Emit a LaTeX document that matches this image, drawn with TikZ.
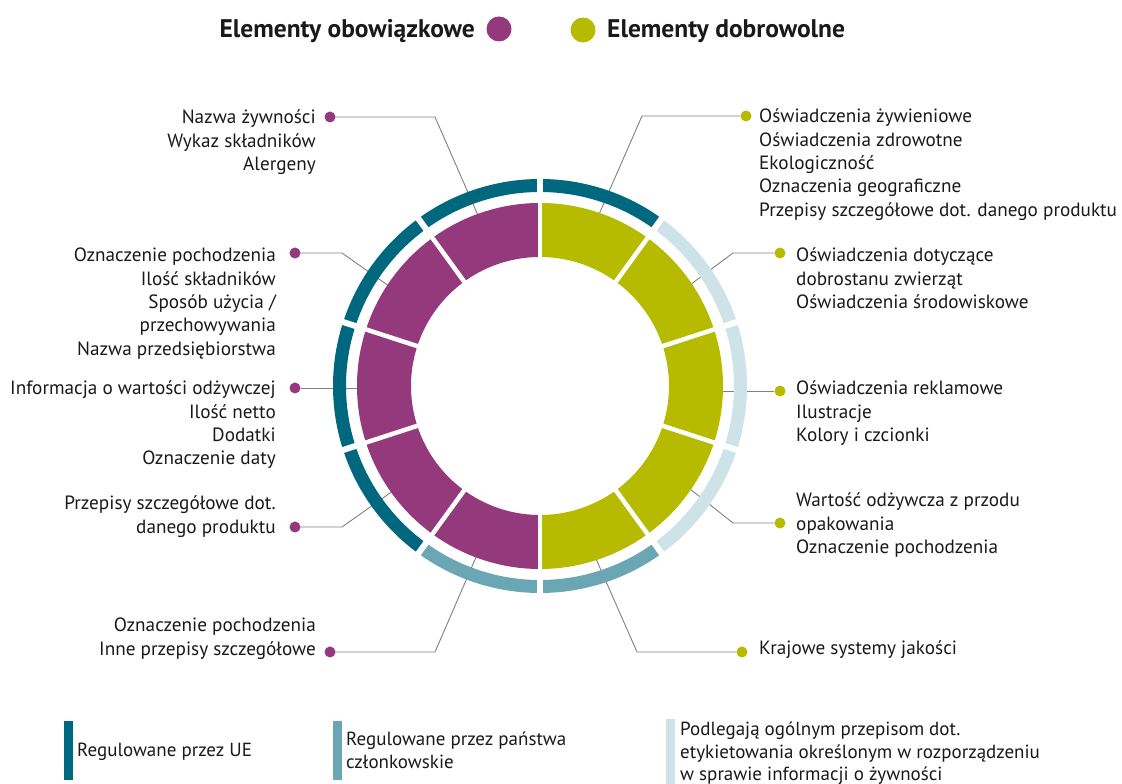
\documentclass[tikz,border=0pt]{standalone}
\usepackage{fontspec}
\setmainfont{PT Sans}
\usetikzlibrary{calc}
\definecolor{mand}{HTML}{93397C}
\definecolor{volu}{HTML}{B6BB00}
\definecolor{eureg}{HTML}{00687E}
\definecolor{msreg}{HTML}{6AA6B3}
\definecolor{genreg}{HTML}{CDE3E8}
\definecolor{leadgray}{HTML}{808080}
\tikzset{lead/.style={draw=leadgray,line width=0.9pt},
 dot/.style={circle,inner sep=0pt,minimum size=11pt},
 lbl/.style={font=\fontsize{19.2}{23.3}\selectfont,inner sep=0pt,text=black!90},
 keytxt/.style={font=\fontsize{19}{22.5}\selectfont,inner sep=0pt,align=left,anchor=base west,text=black!90},
 head/.style={font=\fontsize{25.5}{30}\selectfont\bfseries,inner sep=0pt,anchor=base,text=black!90}}

\begin{document}
\begin{tikzpicture}[x=1pt,y=1pt]
\useasboundingbox (0,0) rectangle (1122,784);
\coordinate (c) at (540,398);
% header
\node[head,anchor=base east] (hmand) at (475,746) {Elementy obowiązkowe};
\node[circle,fill=mand,minimum size=25pt,inner sep=0pt] (cmand) at (499,755) {};
\node[circle,fill=volu,minimum size=25pt,inner sep=0pt] (cvolu) at (583,754) {};
\node[head,anchor=base west] (hvolu) at (607,746) {Elementy dobrowolne};
% leader dots
\node[dot,fill=mand] (d1) at (330,667) {};
\node[dot,fill=mand] (d2) at (295,531) {};
\node[dot,fill=mand] (d3) at (295,396) {};
\node[dot,fill=mand] (d4) at (295,257) {};
\node[dot,fill=mand] (d5) at (330,132) {};
\node[dot,fill=volu] (g1) at (746,668) {};
\node[dot,fill=volu] (g2) at (780,531) {};
\node[dot,fill=volu] (g3) at (780,393) {};
\node[dot,fill=volu] (g4) at (780,261) {};
\node[dot,fill=volu] (g5) at (742,132) {};
% ring points and bends
\coordinate (p1) at ($(c)+(110:183)$);
\coordinate (p2) at ($(c)+(146.5:183)$);
\coordinate (p3) at ($(c)+(180:183)$);
\coordinate (p4) at ($(c)+(215.5:183)$);
\coordinate (p5) at ($(c)+(249.5:183)$);
\coordinate (q1) at ($(c)+(71:183)$);
\coordinate (q2) at ($(c)+(34:183)$);
\coordinate (q3) at ($(c)+(0:183)$);
\coordinate (q4) at ($(c)+(-34.5:183)$);
\coordinate (q5) at ($(c)+(-72:183)$);
\coordinate (b1) at (435,667);
\coordinate (b2) at (342,531);
\coordinate (b4) at (342,257);
\coordinate (b5) at (435,132);
\coordinate (e1) at (642,668);
\coordinate (e2) at (733,531);
\coordinate (e4) at (733,261);
\coordinate (e5) at (637,132);
\draw[lead] (d1)--(b1)--(p1);
\draw[lead] (d2)--(b2)--(p2);
\draw[lead] (d3)--(d3-|p3);
\draw[lead] (d4)--(b4)--(p4);
\draw[lead] (d5)--(b5)--(p5);
\draw[lead] (g1)--(e1)--(q1);
\draw[lead] (g2)--(e2)--(q2);
\draw[lead] (g3)--(g3-|q3);
\draw[lead] (g4)--(e4)--(q4);
\draw[lead] (g5)--(e5)--(q5);
% inner ring
\foreach \a/\col in {90/mand,126/mand,162/mand,198/mand,234/mand,
 -90/volu,-54/volu,-18/volu,18/volu,54/volu}
 \draw[\col,line width=54pt] ($(c)+(\a:156)$) arc[start angle=\a,delta angle=36,radius=156];
% outer ring
\foreach \a/\col in {54/eureg,90/eureg,126/eureg,162/eureg,198/eureg,234/msreg,
 270/msreg,306/genreg,342/genreg,18/genreg}
 \draw[\col,line width=13pt] ($(c)+(\a:200.5)$) arc[start angle=\a,delta angle=36,radius=200.5];
\foreach \a in {90,126,162,198,234,270,306,342,18,54}{
 \draw[white,line width=4.5pt] ($(c)+(\a:124)$)--($(c)+(\a:188)$);
 \draw[white,line width=6pt] ($(c)+(\a:190)$)--($(c)+(\a:211)$);}
% labels
\node[lbl,align=right,anchor=base east] (t1) at (316,613.4) {Nazwa żywności\\Wykaz składników\\Alergeny};
\node[lbl,align=right,anchor=base east] (t2) at (276,428.8) {Oznaczenie pochodzenia\\Ilość składników\\Sposób użycia /\\przechowywania\\Nazwa przedsiębiorstwa};
\node[lbl,align=right,anchor=base east] (t3) at (276,319.1) {Informacja o wartości odżywczej\\Ilość netto\\Dodatki\\Oznaczenie daty};
\node[lbl,align=right,anchor=base east] (t4) at (276,250.7) {Przepisy szczegółowe dot.\\danego produktu};
\node[lbl,align=right,anchor=base east] (t5) at (316,128.7) {Oznaczenie pochodzenia\\Inne przepisy szczegółowe};
\node[lbl,align=left,anchor=base west] (u1) at (759,567.8) {Oświadczenia żywieniowe\\Oświadczenia zdrowotne\\Ekologiczność\\Oznaczenia geograficzne\\Przepisy szczegółowe dot. danego produktu};
\node[lbl,align=left,anchor=base west] (u2) at (796,475.4) {Oświadczenia dotyczące\\dobrostanu zwierząt\\Oświadczenia środowiskowe};
\node[lbl,align=left,anchor=base west] (u3) at (796,342.4) {Oświadczenia reklamowe\\Ilustracje\\Kolory i czcionki};
\node[lbl,align=left,anchor=base west] (u4) at (796,230.4) {Wartość odżywcza z przodu\\opakowania\\Oznaczenie pochodzenia};
\node[lbl,align=left,anchor=base west] (u5) at (759,129) {Krajowe systemy jakości};
% key
\fill[eureg] (64,4) rectangle (73,63);
\fill[msreg] (333,4) rectangle (342,63);
\fill[genreg] (666,0) rectangle (675,65);
\node[keytxt] (k1) at (77,27) {Regulowane przez UE};
\node[keytxt] (k2) at (346,15.5) {Regulowane przez państwa\\członkowskie};
\node[keytxt] (k3) at (680,3) {Podlegają ogólnym przepisom dot.\\etykietowania określonym w rozporządzeniu\\w sprawie informacji o żywności};
\end{tikzpicture}
\end{document}
